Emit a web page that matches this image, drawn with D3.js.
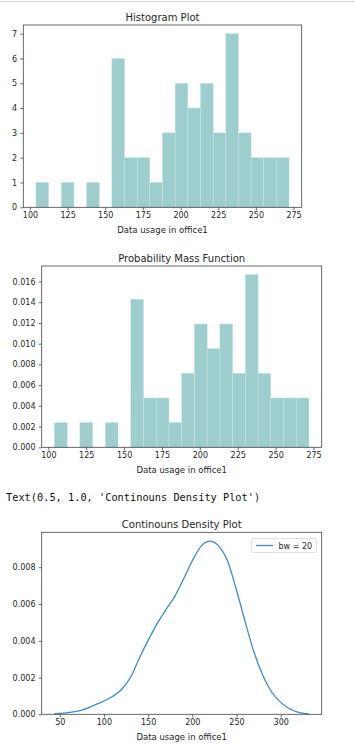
<!DOCTYPE html>
<html>
<head>
<meta charset="utf-8">
<script src="https://cdn.jsdelivr.net/npm/d3@7"></script>
<style>
  html, body { margin: 0; padding: 0; background: #fff; }
  svg { display: block; }
</style>
</head>
<body>
<svg id="chart" width="355" height="751"></svg>
<script>
// ---------- DATA ----------
const binStart = 104;
const binWidth = 8.4;
const histCounts = [1, 0, 1, 0, 1, 0, 6, 2, 2, 1, 3, 5, 4, 5, 3, 7, 3, 2, 2, 2];
const pmfValues = [0.00238, 0, 0.00238, 0, 0.00238, 0, 0.01429, 0.00476, 0.00476, 0.00238,
                   0.00714, 0.0119, 0.00952, 0.0119, 0.00714, 0.01667, 0.00714, 0.00476, 0.00476, 0.00476];
const histXTicks = [100, 125, 150, 175, 200, 225, 250, 275];
const histYTicks = [0, 1, 2, 3, 4, 5, 6, 7];
const pmfYTicks = [0, 0.002, 0.004, 0.006, 0.008, 0.010, 0.012, 0.014, 0.016];
const kdeX = [44, 55, 65, 77, 88, 100, 110, 120, 130, 140, 150, 160, 170, 180, 190, 200,
              210, 220, 230, 240, 250, 260, 270, 280, 290, 300, 310, 320, 332];
const kdeY = [0.00003, 0.00006, 0.00013, 0.00025, 0.00048, 0.00072, 0.00098, 0.00135, 0.00200,
              0.00305, 0.00402, 0.00492, 0.00568, 0.00640, 0.00735, 0.00835, 0.00915, 0.00942,
              0.00915, 0.00832, 0.00675, 0.00500, 0.00335, 0.00210, 0.00120, 0.00065, 0.00030,
              0.00010, 0.00002];
const kdeXTicks = [50, 100, 150, 200, 250, 300];
const kdeYTicks = [0, 0.002, 0.004, 0.006, 0.008];
const titles = ["Histogram Plot", "Probability Mass Function", "Continouns Density Plot"];
const xLabel = "Data usage in office1";
const outputText = "Text(0.5, 1.0, 'Continouns Density Plot')";
const legendLabel = "bw = 20";

// ---------- STYLE ----------
const barColor = "#9dcdcd";
const lineColor = "#3d8bc5";
const textColor = "#262626";
const spineColor = "#444";
const sansFont = "'DejaVu Sans', sans-serif";
const tickFs = 8, labelFs = 8.5, titleFs = 10;

const svg = d3.select("#chart");

// notebook top border
svg.append("line").attr("x1", 0).attr("x2", 355).attr("y1", 1.5).attr("y2", 1.5)
  .attr("stroke", "#d6d6d6").attr("stroke-width", 1);

function panel(box, xDomain, yDomain, xTicks, yTicks, yFmt, title) {
  const x = d3.scaleLinear().domain(xDomain).range([box.l, box.r]);
  const y = d3.scaleLinear().domain(yDomain).range([box.b, box.t]);
  const g = svg.append("g");
  const content = g.append("g");

  const xAxis = g.append("g").attr("transform", `translate(0,${box.b})`)
    .call(d3.axisBottom(x).tickValues(xTicks).tickSize(3).tickPadding(2.5).tickFormat(d3.format("d")));
  const yAxis = g.append("g").attr("transform", `translate(${box.l},0)`)
    .call(d3.axisLeft(y).tickValues(yTicks).tickSize(3).tickPadding(3.2).tickFormat(yFmt));
  [xAxis, yAxis].forEach(a => {
    a.select(".domain").remove();
    a.selectAll(".tick line").attr("stroke", spineColor).attr("stroke-width", 0.8);
    a.selectAll(".tick text").attr("fill", textColor).style("font-family", sansFont).style("font-size", tickFs + "px");
  });

  g.append("rect").attr("x", box.l).attr("y", box.t).attr("width", box.r - box.l).attr("height", box.b - box.t)
    .attr("fill", "none").attr("stroke", spineColor).attr("stroke-width", 0.8);

  g.append("text").attr("x", (box.l + box.r) / 2).attr("y", box.t - 4.5).attr("text-anchor", "middle")
    .attr("fill", textColor).style("font-family", sansFont).style("font-size", titleFs + "px").text(title);
  g.append("text").attr("x", (box.l + box.r) / 2).attr("y", box.b + 25.5).attr("text-anchor", "middle")
    .attr("fill", textColor).style("font-family", sansFont).style("font-size", labelFs + "px").text(xLabel);
  return { x, y, content };
}

function drawBars(p, values) {
  p.content.selectAll("rect").data(values.map((v, i) => ({ v, i })).filter(d => d.v > 0))
    .enter().append("rect")
    .attr("x", d => p.x(binStart + d.i * binWidth))
    .attr("width", d => p.x(binStart + (d.i + 1) * binWidth) - p.x(binStart + d.i * binWidth))
    .attr("y", d => p.y(d.v))
    .attr("height", d => p.y(0) - p.y(d.v))
    .attr("fill", barColor)
    .attr("stroke", "#c4e2e2").attr("stroke-width", 0.5);
}

// Panel 1: histogram
const p1 = panel({ l: 23.3, r: 301.7, t: 25, b: 207.3 }, [95.6, 280.4], [0, 7.35],
  histXTicks, histYTicks, d3.format("d"), titles[0]);
drawBars(p1, histCounts);

// Panel 2: PMF
const p2 = panel({ l: 41.7, r: 321.7, t: 266, b: 447.3 }, [95.6, 280.4], [0, 0.0175],
  histXTicks, pmfYTicks, d3.format(".3f"), titles[1]);
drawBars(p2, pmfValues);

// Output text
svg.append("text").attr("x", 6).attr("y", 501).attr("fill", "#111")
  .style("font-family", "'DejaVu Sans Mono', monospace").style("font-size", "10.3px")
  .attr("xml:space", "preserve").text(outputText);

// Panel 3: KDE
const p3 = panel({ l: 41.7, r: 321.7, t: 532.3, b: 714.3 }, [29.6, 346.4], [0, 0.0099],
  kdeXTicks, kdeYTicks, d3.format(".3f"), titles[2]);
const kdeData = kdeX.map((v, i) => [v, kdeY[i]]);
p3.content.append("path").datum(kdeData)
  .attr("d", d3.line().x(d => p3.x(d[0])).y(d => p3.y(d[1])).curve(d3.curveMonotoneX))
  .attr("fill", "none").attr("stroke", lineColor).attr("stroke-width", 1.3);

// Legend
const lg = svg.append("g");
lg.append("rect").attr("x", 251.5).attr("y", 538.5).attr("width", 65).attr("height", 14).attr("rx", 2)
  .attr("fill", "#fff").attr("stroke", "#d9d9d9").attr("stroke-width", 0.8);
lg.append("line").attr("x1", 256).attr("x2", 273).attr("y1", 545.5).attr("y2", 545.5)
  .attr("stroke", lineColor).attr("stroke-width", 1.3);
lg.append("text").attr("x", 278.5).attr("y", 548.5).attr("fill", textColor)
  .style("font-family", sansFont).style("font-size", "8px").text(legendLabel);
</script>
</body>
</html>
